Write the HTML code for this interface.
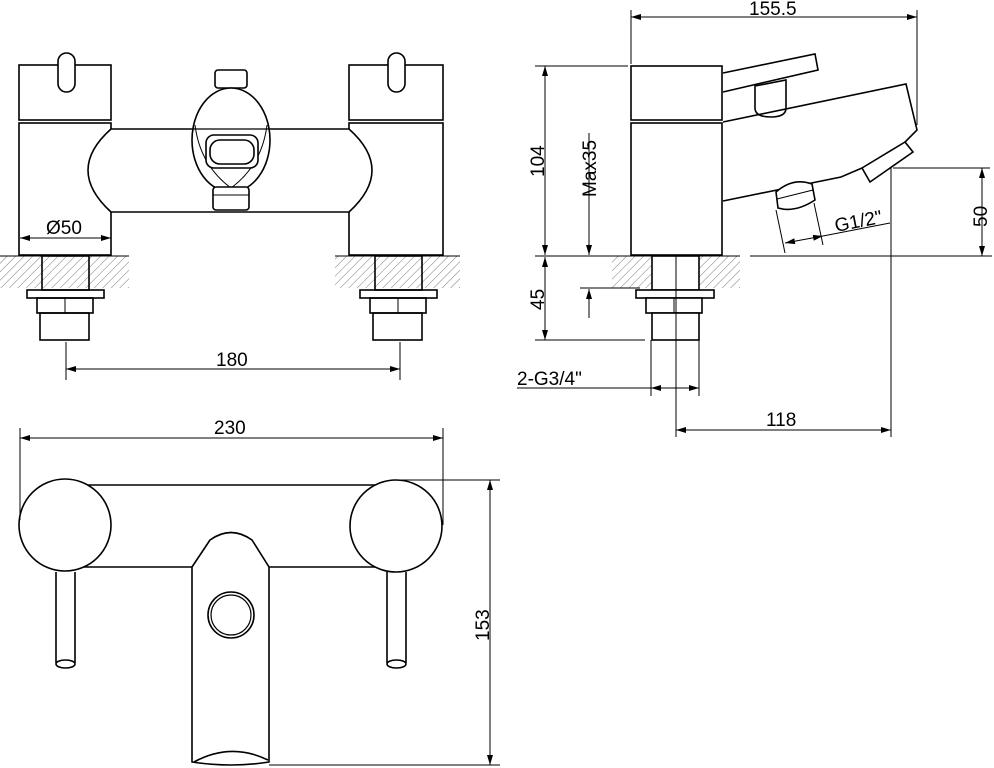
<!DOCTYPE html>
<html><head><meta charset="utf-8"><style>
html,body{margin:0;padding:0;background:#fff}
svg{display:block}
text{font-family:"Liberation Sans",sans-serif;font-size:19px;fill:#000}
</style></head><body>
<svg width="994" height="768" viewBox="0 0 994 768" xmlns="http://www.w3.org/2000/svg">
<defs>
<pattern id="h" width="6" height="6" patternUnits="userSpaceOnUse" patternTransform="rotate(45)">
<line x1="0" y1="0" x2="0" y2="6" stroke="#555" stroke-width="0.8"/>
</pattern>
<marker id="a" viewBox="0 0 10 6" refX="10" refY="3" markerWidth="10" markerHeight="6" orient="auto-start-reverse" markerUnits="userSpaceOnUse">
<path d="M0,0 L10,3 L0,6 z" fill="#000"/>
</marker>
</defs>
<g fill="none" stroke="#000" stroke-width="1.6">
<!-- FRONT VIEW -->
<rect x="0" y="256" width="129" height="32" fill="url(#h)" stroke="none"/>
<rect x="335" y="256" width="125" height="32" fill="url(#h)" stroke="none"/>
<line x1="0" y1="256" x2="129" y2="256" stroke-width="1"/>
<line x1="335" y1="256" x2="460" y2="256" stroke-width="1"/>
<rect x="19" y="65" width="92" height="55"/>
<rect x="19" y="123" width="92" height="132" fill="#fff"/>
<rect x="58" y="53" width="17" height="39" rx="8.5" fill="#fff"/>
<rect x="349" y="65" width="94" height="55"/>
<rect x="349" y="123" width="94" height="132" fill="#fff"/>
<rect x="388" y="53" width="17" height="39" rx="8.5" fill="#fff"/>
<path d="M111,129 L349,129 Q395,170 349,212 L111,212 Q65,170 111,129 Z" fill="#fff"/>
<!-- spout -->
<rect x="215" y="70" width="32" height="18" rx="3" fill="#fff"/>
<ellipse cx="231" cy="140" rx="39" ry="52" fill="#fff"/>
<line x1="193" y1="129" x2="269" y2="129" stroke-width="1.2"/>
<path d="M195,125 Q200,165 231,188 Q262,165 267,125" stroke-width="1"/>
<rect x="206" y="135" width="52" height="33" rx="8" fill="#fff"/>
<rect x="210" y="140" width="44" height="24" rx="10"/>
<rect x="213" y="187" width="36" height="23" rx="3" fill="#fff"/>
<line x1="213" y1="195" x2="249" y2="195" stroke-width="1"/>
<rect x="42" y="256" width="47" height="34"/>
<rect x="27" y="290" width="77" height="8"/>
<rect x="37" y="298" width="56" height="15"/>
<line x1="65" y1="298" x2="65" y2="313" stroke-width="1"/>
<rect x="40" y="313" width="49" height="27"/>
<rect x="375" y="256" width="47" height="34"/>
<rect x="360" y="290" width="77" height="8"/>
<rect x="370" y="298" width="56" height="15"/>
<line x1="398" y1="298" x2="398" y2="313" stroke-width="1"/>
<rect x="373" y="313" width="49" height="27"/>
</g>
<g stroke="#000" stroke-width="1" fill="none">
<line x1="20" y1="238" x2="111" y2="238" marker-start="url(#a)" marker-end="url(#a)"/>
<line x1="66" y1="342" x2="66" y2="380"/>
<line x1="400" y1="342" x2="400" y2="380"/>
<line x1="66" y1="369" x2="400" y2="369" marker-start="url(#a)" marker-end="url(#a)"/>
</g>
<text x="46" y="234">Ø50</text>
<text x="216" y="366">180</text>

<!-- SIDE VIEW -->
<rect x="612" y="256" width="128" height="32" fill="url(#h)"/>
<g fill="none" stroke="#000" stroke-width="1.6">
<rect x="631" y="66" width="91" height="54" fill="#fff"/>
<rect x="631" y="123" width="91" height="132" fill="#fff"/>
<path d="M723,73 L815,54 L818,70 L723,92" fill="#fff"/>
<path d="M755,86 L786,80 L786,108 Q786,117 771,117 Q755,117 755,108 Z" fill="#fff"/>
<path d="M723,122 L906,84 L917,130 L905,142 L913,152 L870,182 L862,168 L841,177 L723,201" />
<line x1="862" y1="168" x2="905" y2="142"/>
<path d="M776,192 Q793,177 812,184 L815,200 Q795,213 778,208 Z" fill="#fff"/>
<line x1="777" y1="199" x2="813" y2="190" stroke-width="1"/>
<rect x="652" y="256" width="47" height="34" fill="#fff"/>
<rect x="636" y="290" width="78" height="8" fill="#fff"/>
<rect x="646" y="298" width="56" height="15" fill="#fff"/>
<line x1="674" y1="298" x2="674" y2="313" stroke-width="1"/>
<rect x="652" y="313" width="47" height="27" fill="#fff"/>
</g>
<g stroke="#000" stroke-width="1" fill="none">
<line x1="535" y1="256" x2="740" y2="256"/>
<line x1="750" y1="256" x2="992" y2="256"/>
<line x1="631" y1="10" x2="631" y2="64"/>
<line x1="917" y1="10" x2="917" y2="125"/>
<line x1="631" y1="17" x2="917" y2="17" marker-start="url(#a)" marker-end="url(#a)"/>
<line x1="535" y1="66" x2="628" y2="66"/>
<line x1="545" y1="66" x2="545" y2="255" marker-start="url(#a)" marker-end="url(#a)"/>
<line x1="545" y1="257" x2="545" y2="340" marker-start="url(#a)" marker-end="url(#a)"/>
<line x1="535" y1="340" x2="645" y2="340"/>
<line x1="589" y1="133" x2="589" y2="255" marker-end="url(#a)"/>
<line x1="589" y1="318" x2="589" y2="289" marker-end="url(#a)"/>
<line x1="580" y1="288" x2="640" y2="288"/>
<line x1="676" y1="256" x2="676" y2="437"/>
<line x1="651" y1="340" x2="651" y2="396"/>
<line x1="699" y1="340" x2="699" y2="396"/>
<line x1="517" y1="388" x2="651" y2="388"/>
<line x1="651" y1="388" x2="699" y2="388" marker-start="url(#a)" marker-end="url(#a)"/>
<line x1="891" y1="168" x2="891" y2="437"/>
<line x1="676" y1="430" x2="891" y2="430" marker-start="url(#a)" marker-end="url(#a)"/>
<line x1="893" y1="168" x2="990" y2="168"/>
<line x1="982" y1="168" x2="982" y2="256" marker-start="url(#a)" marker-end="url(#a)"/>
<line x1="776" y1="210" x2="785" y2="253"/>
<line x1="814" y1="203" x2="823" y2="245"/>
<line x1="785" y1="243" x2="823" y2="236" marker-start="url(#a)" marker-end="url(#a)"/>
<line x1="823" y1="236" x2="890" y2="223"/>
</g>
<text x="749" y="15">155.5</text>
<text transform="translate(544,177) rotate(-90)">104</text>
<text transform="translate(596,197) rotate(-90)">Max35</text>
<text transform="translate(544,310) rotate(-90)">45</text>
<text transform="translate(987,227) rotate(-90)">50</text>
<text x="517" y="385">2-G3/4"</text>
<text x="766" y="426">118</text>
<text transform="translate(836,232) rotate(-11)">G1/2"</text>

<!-- TOP VIEW -->
<g fill="none" stroke="#000" stroke-width="1.6">
<path d="M80,485 L380,485 M80,567 L192,567 M269,567 L380,567"/>
<circle cx="65" cy="525" r="46" fill="#fff"/>
<circle cx="396" cy="526" r="46" fill="#fff"/>
<path d="M56,572 L56,663 M75,572 L75,663"/>
<ellipse cx="65.5" cy="664" rx="9.5" ry="4"/>
<path d="M387,572 L387,663 M406,572 L406,663"/>
<ellipse cx="396.5" cy="664" rx="9.5" ry="4"/>
<path d="M192,567 L210,540 Q231,525 252,540 L269,567 L269,762 Q231,768 192,762 Z" fill="#fff"/>
<path d="M194,762 Q231,742 268,760"/>
<circle cx="231" cy="615" r="23"/>
<circle cx="231" cy="615" r="20" stroke-width="1.2"/>
</g>
<g stroke="#000" stroke-width="1" fill="none">
<line x1="20" y1="428" x2="20" y2="520"/>
<line x1="443" y1="428" x2="443" y2="525"/>
<line x1="20" y1="438" x2="443" y2="438" marker-start="url(#a)" marker-end="url(#a)"/>
<line x1="396" y1="480" x2="500" y2="480"/>
<line x1="269" y1="765" x2="500" y2="765"/>
<line x1="490" y1="480" x2="490" y2="765" marker-start="url(#a)" marker-end="url(#a)"/>
</g>
<text x="214" y="434">230</text>
<text transform="translate(489,641) rotate(-90)">153</text>
</svg>
</body></html>
